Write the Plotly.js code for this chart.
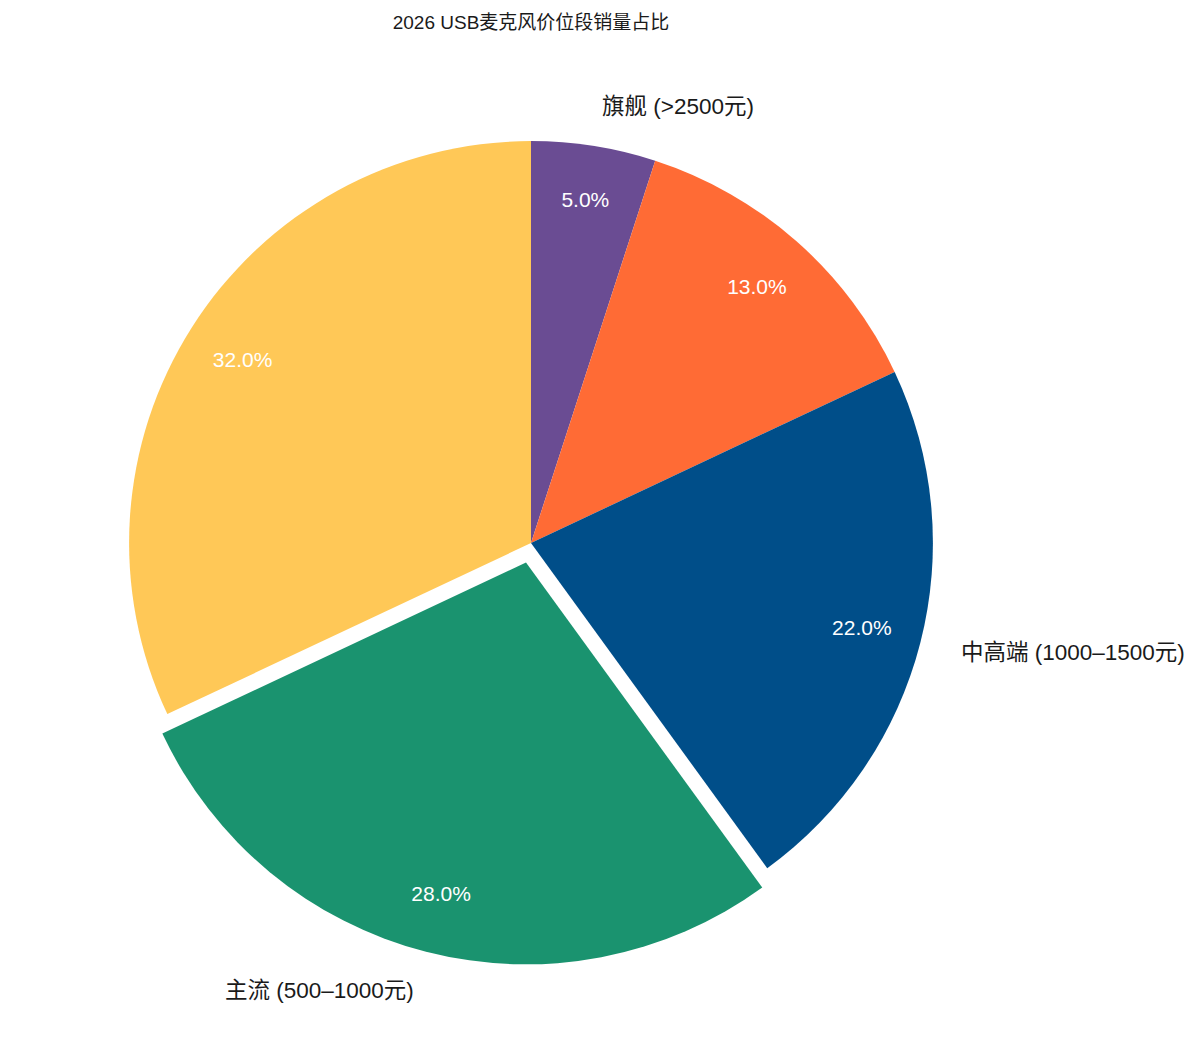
<!DOCTYPE html>
<html>
<head>
<meta charset="utf-8">
<script src="https://cdn.plot.ly/plotly-3.0.1.min.js"></script>
<style>
  html, body { margin: 0; padding: 0; background: #fff; }
  #chart { width: 1200px; height: 1059px; }
</style>
</head>
<body>
<div id="chart"></div>
<script>
// data
var segments = ['旗舰 (>2500元)', '高端 (1500–2500元)', '中高端 (1000–1500元)', '主流 (500–1000元)', '入门 (<500元)'];
var shares = [5, 13, 22, 28, 32];
var sliceColors = ['#6A4C93', '#FF6B35', '#004E89', '#1A936F', '#FFC857'];
var pulls = [0, 0, 0, 0.05, 0];
// outside label colours (two of them are white in the original)
var labelColors = ['#1a1a1a', '#ffffff', '#1a1a1a', '#1a1a1a', '#ffffff'];

var fontFam = 'Liberation Sans, Arial, Noto Sans CJK SC, sans-serif';
var W = 1200, H = 1059;
var M = { l: 109, r: 247, t: 121, b: 94 };
var clear = shares.map(function () { return 'rgba(0,0,0,0)'; });

// coloured slices
var slices = {
  type: 'pie',
  labels: segments,
  values: shares,
  sort: false,
  direction: 'clockwise',
  rotation: 0,
  pull: pulls,
  marker: { colors: sliceColors, line: { width: 0 } },
  textinfo: 'none',
  hoverinfo: 'label+percent',
  showlegend: false
};

// transparent ring on top, so the percentages sit out near the rim
var pctRing = {
  type: 'pie',
  labels: segments,
  values: shares,
  sort: false,
  direction: 'clockwise',
  rotation: 0,
  pull: pulls,
  hole: 0.7,
  marker: { colors: clear, line: { width: 0 } },
  textinfo: 'percent',
  texttemplate: '%{percent:.1%}',
  textposition: 'inside',
  insidetextorientation: 'horizontal',
  insidetextfont: { color: '#ffffff', size: 21, family: fontFam },
  hoverinfo: 'skip',
  showlegend: false
};

// category names just outside the rim, on each slice's middle direction
var plotW = W - M.l - M.r, plotH = H - M.t - M.b;
var maxPull = Math.max.apply(null, pulls);
var rad = Math.min(plotW, plotH) / (2 + 2 * maxPull);
var total = shares.reduce(function (a, b) { return a + b; }, 0);
var annots = [];
var cum = 0;
for (var i = 0; i < shares.length; i++) {
  var mid = (cum + shares[i] / 2) / total * 2 * Math.PI;
  cum += shares[i];
  var dist = rad * (1.1 + pulls[i]);
  var dx = dist * Math.sin(mid), dy = dist * Math.cos(mid);
  annots.push({
    xref: 'paper', yref: 'paper',
    x: 0.5 + dx / plotW,
    y: 0.5 + dy / plotH,
    xanchor: dx >= 0 ? 'left' : 'right',
    yanchor: 'middle',
    text: segments[i],
    showarrow: false,
    font: { size: 22.5, color: labelColors[i], family: fontFam }
  });
}

var layout = {
  width: W,
  height: H,
  margin: M,
  paper_bgcolor: '#ffffff',
  title: {
    text: '2026 USB麦克风价位段销量占比',
    font: { size: 19, color: '#1a1a1a', family: fontFam },
    xref: 'paper',
    x: 0.5,
    xanchor: 'center',
    yref: 'container',
    y: 0.979,
    yanchor: 'middle'
  },
  annotations: annots,
  showlegend: false
};

Plotly.newPlot('chart', [slices, pctRing], layout, { displayModeBar: false, staticPlot: true });
</script>
</body>
</html>
